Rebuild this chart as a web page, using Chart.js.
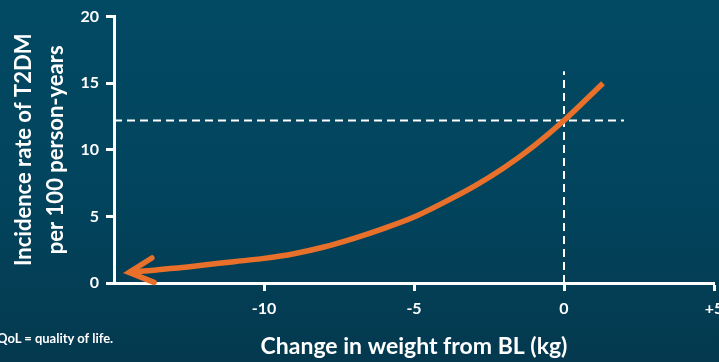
<!DOCTYPE html>
<html>
<head>
<meta charset="utf-8">
<script src="https://cdn.jsdelivr.net/npm/chart.js@4"></script>
<style>
  html, body { margin: 0; padding: 0; }
  body {
    width: 719px; height: 362px; overflow: hidden; position: relative;
    background: linear-gradient(180deg, #024963 0%, #02445d 55%, #04394f 100%);
    font-family: Lato, "Open Sans", sans-serif;
  }
  #wrap { position: absolute; left: 0; top: 0; width: 719px; height: 362px; }
  #note {
    position: absolute; left: -3px; top: 330px;
    color: #ffffff; font-weight: bold; font-size: 13px; white-space: nowrap;
  }
</style>
</head>
<body>
<div id="wrap"><canvas id="c" width="719" height="362"></canvas></div>
<div id="note">QoL = quality of life.</div>
<script>
// Weight change from baseline (kg) and T2DM incidence per 100 person-years
const weightChange = [-14.5, -14, -13, -12, -11, -10, -9, -8, -7, -6, -5, -4, -3, -2, -1, 0, 1.3];
const incidence    = [0.8, 0.9, 1.1, 1.35, 1.6, 1.85, 2.2, 2.7, 3.35, 4.1, 4.95, 6.05, 7.25, 8.65, 10.3, 12.2, 15.0];

// Reference cross-hair at no weight change
const refWeight = 0;
const refIncidence = 12.2;
const refHLineX = [-15, 2];
const refVLineY = [0, 15.9];

// Axis ranges and tick labels
const xRange = [-15, 5];
const yRange = [0, 20];
const xTickLabels = { '-10': '-10', '-5': '-5', '0': '0', '5': '+5' };

const ORANGE = '#e8702a';
const WHITE = '#ffffff';
const FONT = 'Lato, "Open Sans", sans-serif';

const curve = weightChange.map((x, i) => ({ x, y: incidence[i] }));
const hLine = refHLineX.map(x => ({ x, y: refIncidence }));
const vLine = refVLineY.map(y => ({ x: refWeight, y }));

// Arrowhead at the low end of the curve
const arrowHead = {
  id: 'arrowHead',
  afterDatasetsDraw(chart) {
    const pts = chart.getDatasetMeta(0).data;
    if (pts.length < 3) return;
    const tip = pts[0], ref = pts[2];
    const ang = Math.atan2(ref.y - tip.y, ref.x - tip.x);
    const len = 27, spread = 27 * Math.PI / 180;
    const ctx = chart.ctx;
    ctx.save();
    ctx.strokeStyle = ORANGE;
    ctx.lineWidth = 5.5;
    ctx.lineCap = 'round';
    ctx.lineJoin = 'miter';
    ctx.beginPath();
    ctx.moveTo(tip.x + len * Math.cos(ang - spread), tip.y + len * Math.sin(ang - spread));
    ctx.lineTo(tip.x, tip.y);
    ctx.lineTo(tip.x + len * Math.cos(ang + spread), tip.y + len * Math.sin(ang + spread));
    ctx.stroke();
    ctx.restore();
  }
};

Chart.defaults.font.family = FONT;
Chart.defaults.color = WHITE;

new Chart(document.getElementById('c'), {
  type: 'scatter',
  data: {
    datasets: [
      {
        data: curve, showLine: true, borderColor: ORANGE, borderWidth: 5.5,
        pointRadius: 0, cubicInterpolationMode: 'monotone', borderCapStyle: 'butt'
      },
      {
        data: hLine, showLine: true, borderColor: WHITE, borderWidth: 2,
        borderDash: [8, 5], pointRadius: 0
      },
      {
        data: vLine, showLine: true, borderColor: WHITE, borderWidth: 2,
        borderDash: [8, 5], pointRadius: 0
      }
    ]
  },
  options: {
    responsive: false,
    animation: false,
    events: [],
    layout: { padding: { left: 0, right: 5, top: 16, bottom: 0 } },
    plugins: { legend: { display: false }, tooltip: { enabled: false } },
    scales: {
      x: {
        type: 'linear', min: xRange[0], max: xRange[1],
        border: { color: WHITE, width: 3 },
        grid: {
          drawOnChartArea: false, drawTicks: true, tickLength: 8, tickWidth: 3,
          tickColor: ctx => (ctx.tick && ctx.tick.value === xRange[0]) ? 'rgba(0,0,0,0)' : WHITE
        },
        ticks: {
          stepSize: 5, padding: 8, color: WHITE, maxRotation: 0,
          font: { size: 16, weight: 'bold', family: FONT },
          callback: v => xTickLabels[String(v)] || ''
        },
        title: {
          display: true, text: 'Change in weight from BL (kg)', color: WHITE,
          font: { size: 23, weight: 'bold', family: FONT }, padding: { top: 0, bottom: 2 }
        },
        afterFit: s => { s.height = 79; s.paddingRight = 0; s.paddingLeft = 0; }
      },
      y: {
        type: 'linear', min: yRange[0], max: yRange[1],
        border: { color: WHITE, width: 3 },
        grid: { drawOnChartArea: false, drawTicks: true, tickLength: 8, tickWidth: 3, tickColor: WHITE },
        ticks: {
          stepSize: 5, padding: 7, color: WHITE,
          font: { size: 16, weight: 'bold', family: FONT }
        },
        title: {
          display: true, text: ['Incidence rate of T2DM', 'per 100 person-years'], color: WHITE,
          font: { size: 22, weight: 'bold', family: FONT, lineHeight: 1.45 }, padding: { top: 8, bottom: 0 }
        },
        afterFit: s => { s.width = 114; }
      }
    }
  },
  plugins: [arrowHead]
});
</script>
</body>
</html>
